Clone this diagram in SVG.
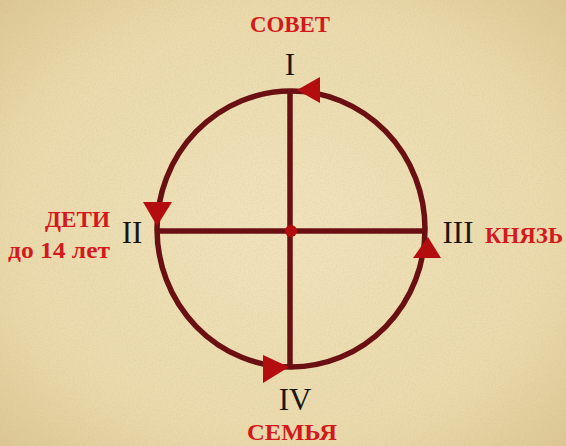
<svg xmlns="http://www.w3.org/2000/svg" width="566" height="446" viewBox="0 0 566 446">
<defs>
<radialGradient id="bg" cx="0.5" cy="0.5" r="0.7">
<stop offset="0" stop-color="#f1e3bd"/>
<stop offset="0.7" stop-color="#eadaab"/>
<stop offset="1" stop-color="#ddc795"/>
</radialGradient>
<filter id="grain" x="0" y="0" width="100%" height="100%">
<feTurbulence type="fractalNoise" baseFrequency="0.6" numOctaves="3" seed="4"/>
<feColorMatrix type="matrix" values="0 0 0 0 0.55  0 0 0 0 0.45  0 0 0 0 0.25  0 0 0 -1.6 1.0"/>
</filter>
<style>
.ln{fill:none;stroke:#6a0f12;stroke-width:5.5}
.ah{fill:#b30d10}
.lab{font-family:"Liberation Serif","DejaVu Serif",serif;font-weight:bold;fill:#d3191d}
.num{font-family:"Liberation Serif","DejaVu Serif",serif;fill:#1b1610;font-size:31px}
</style>
</defs>
<rect width="566" height="446" fill="url(#bg)"/>
<rect width="566" height="446" filter="url(#grain)" opacity="0.25"/>
<g id="connectors">
<ellipse class="ln" cx="291" cy="229" rx="134" ry="138"/>
<line class="ln" x1="157" y1="231" x2="425" y2="231"/>
<line class="ln" x1="290" y1="91" x2="290" y2="367"/>
<polygon class="ah" points="297,90 320,77 320,103"/>
<polygon class="ah" points="143,202 172,202 157,226"/>
<polygon class="ah" points="428,237 441,258 413,258"/>
<polygon class="ah" points="289,367 263,355 263,383"/>
<circle cx="291" cy="231" r="6" fill="#b30d10"/>
</g>
<g id="n1"><text class="num" x="290" y="75" text-anchor="middle">I</text>
<text class="lab" x="250" y="32" font-size="24" textLength="80" lengthAdjust="spacingAndGlyphs">СОВЕТ</text></g>
<g id="n2"><text class="num" x="132" y="243" text-anchor="middle">II</text>
<text class="lab" x="45" y="227" font-size="24" textLength="65" lengthAdjust="spacingAndGlyphs">ДЕТИ</text>
<text class="lab" x="8" y="258" font-size="24" textLength="102" lengthAdjust="spacingAndGlyphs">до 14 лет</text></g>
<g id="n3"><text class="num" x="458" y="243" text-anchor="middle">III</text>
<text class="lab" x="485" y="243" font-size="24" textLength="78" lengthAdjust="spacingAndGlyphs">КНЯЗЬ</text></g>
<g id="n4"><text class="num" x="295" y="410" text-anchor="middle">IV</text>
<text class="lab" x="247" y="440" font-size="24" textLength="90" lengthAdjust="spacingAndGlyphs">СЕМЬЯ</text></g>
</svg>
